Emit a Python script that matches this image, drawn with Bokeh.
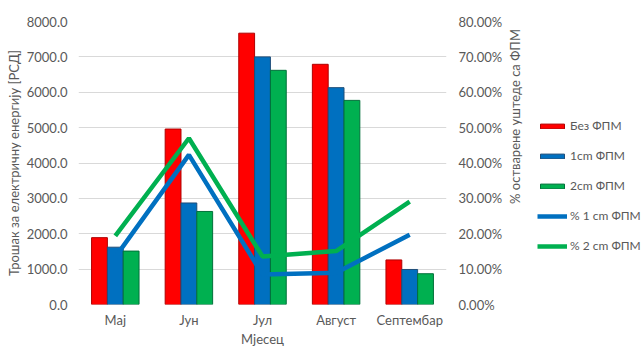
import math
from bokeh.plotting import figure
from bokeh.layouts import row
from bokeh.models import (FactorRange, Range1d, LinearAxis, NumeralTickFormatter,
                          Legend, LegendItem, ColumnDataSource, FixedTicker, Label)
from bokeh.transform import dodge
from bokeh.embed import file_html
from bokeh.resources import INLINE

months = ["Мај", "Јун", "Јул", "Август", "Септембар"]
cost_none = [1890, 4960, 7670, 6790, 1260]
cost_1cm = [1620, 2870, 7000, 6130, 990]
cost_2cm = [1510, 2630, 6620, 5770, 870]
save_1cm = [0.134, 0.423, 0.085, 0.090, 0.197]
save_2cm = [0.194, 0.470, 0.136, 0.151, 0.291]
series_labels = ["Без ФПМ", "1cm ФПМ", "2cm ФПМ", "% 1 cm ФПМ", "% 2 cm ФПМ"]

FONT = "Lato"
GRAY = "#595959"
RED, BLUE, GREEN = "#FF0000", "#0070C0", "#00B050"
RED_E, BLUE_E, GREEN_E = "#B00000", "#1F4E79", "#00703A"

src = ColumnDataSource(dict(m=months, a=cost_none, b=cost_1cm, c=cost_2cm,
                            s1=save_1cm, s2=save_2cm))

p = figure(width=505, height=349, x_range=FactorRange(*months, range_padding=0),
           y_range=Range1d(0, 8000), output_backend="svg", toolbar_location=None,
           min_border_left=78, min_border_right=55, min_border_top=21, min_border_bottom=45)
p.outline_line_color = None
p.extra_y_ranges = {"pct": Range1d(0, 0.8)}

bw = 0.215
p.vbar(x=dodge("m", -bw, range=p.x_range), top="a", width=bw, source=src,
       fill_color=RED, line_color=RED_E, line_width=1)
p.vbar(x=dodge("m", 0, range=p.x_range), top="b", width=bw, source=src,
       fill_color=BLUE, line_color=BLUE_E, line_width=1)
p.vbar(x=dodge("m", bw, range=p.x_range), top="c", width=bw, source=src,
       fill_color=GREEN, line_color=GREEN_E, line_width=1)
p.line(x="m", y="s1", source=src, y_range_name="pct", line_color=BLUE, line_width=4.5)
p.line(x="m", y="s2", source=src, y_range_name="pct", line_color=GREEN, line_width=4.5)

ya = p.yaxis[0]
ya.ticker = FixedTicker(ticks=list(range(0, 8001, 1000)))
ya.formatter = NumeralTickFormatter(format="0.0")
ya.axis_label = "Трошак за електричну енергију [РСД]"

yr = LinearAxis(y_range_name="pct",
                ticker=FixedTicker(ticks=[i / 10 for i in range(0, 9)]),
                formatter=NumeralTickFormatter(format="0.00%"))
p.add_layout(yr, "right")

xa = p.xaxis[0]
xa.axis_label = "Мјесец"

for ax in [ya, yr, xa]:
    ax.axis_line_color = None
    ax.major_tick_line_color = None
    ax.minor_tick_line_color = None
    ax.major_tick_out = 0
    ax.major_tick_in = 0
    ax.minor_tick_out = 0
    ax.minor_tick_in = 0
    ax.major_label_text_font = FONT
    ax.major_label_text_font_size = "13px"
    ax.major_label_text_color = GRAY
    ax.axis_label_text_font = FONT
    ax.axis_label_text_font_size = "13px"
    ax.axis_label_text_font_style = "normal"
    ax.axis_label_text_color = GRAY

ya.major_label_standoff = 11
yr.major_label_standoff = 12
xa.major_label_standoff = 7
xa.axis_label_standoff = 0
ya.axis_label_standoff = 2

p.xgrid.grid_line_color = None
p.ygrid.grid_line_color = "#D9D9D9"
p.ygrid.ticker = ya.ticker

# side panel: right-axis title + legend
q = figure(width=136, height=349, x_range=Range1d(0, 1), y_range=Range1d(0, 1),
           x_axis_type=None, y_axis_type=None, output_backend="svg",
           toolbar_location=None, min_border=0)
q.outline_line_color = None
q.xgrid.grid_line_color = None
q.ygrid.grid_line_color = None

# legend-only renderers, their points lie outside the visible range
hidden = ColumnDataSource(dict(x=[5, 6], y=[5, 6]))
g1 = q.vbar(x="x", top="y", width=0.1, source=hidden, fill_color=RED, line_color=RED_E)
g2 = q.vbar(x="x", top="y", width=0.1, source=hidden, fill_color=BLUE, line_color=BLUE_E)
g3 = q.vbar(x="x", top="y", width=0.1, source=hidden, fill_color=GREEN, line_color=GREEN_E)
g4 = q.line(x="x", y="y", source=hidden, line_color=BLUE, line_width=4.5)
g5 = q.line(x="x", y="y", source=hidden, line_color=GREEN, line_width=4.5)

q.add_layout(Label(x=9, y=188, x_units="screen", y_units="screen",
                   text="% остварене уштеде са ФПМ", angle=math.pi / 2,
                   text_align="center", text_baseline="middle",
                   text_font=FONT, text_font_size="13px", text_color=GRAY))

legend = Legend(items=[LegendItem(label=lab, renderers=[r])
                       for lab, r in zip(series_labels, [g1, g2, g3, g4, g5])],
                location=(32, 51))
legend.border_line_color = None
legend.background_fill_alpha = 0
legend.padding = 0
legend.margin = 0
legend.spacing = 15
legend.glyph_width = 30
legend.glyph_height = 6
legend.label_standoff = 3
legend.label_text_font = FONT
legend.label_text_font_size = "12px"
legend.label_text_color = GRAY
legend.label_height = 15
q.add_layout(legend, "center")

layout = row(p, q, spacing=0)
open("out.html", "w").write(file_html(layout, INLINE))
